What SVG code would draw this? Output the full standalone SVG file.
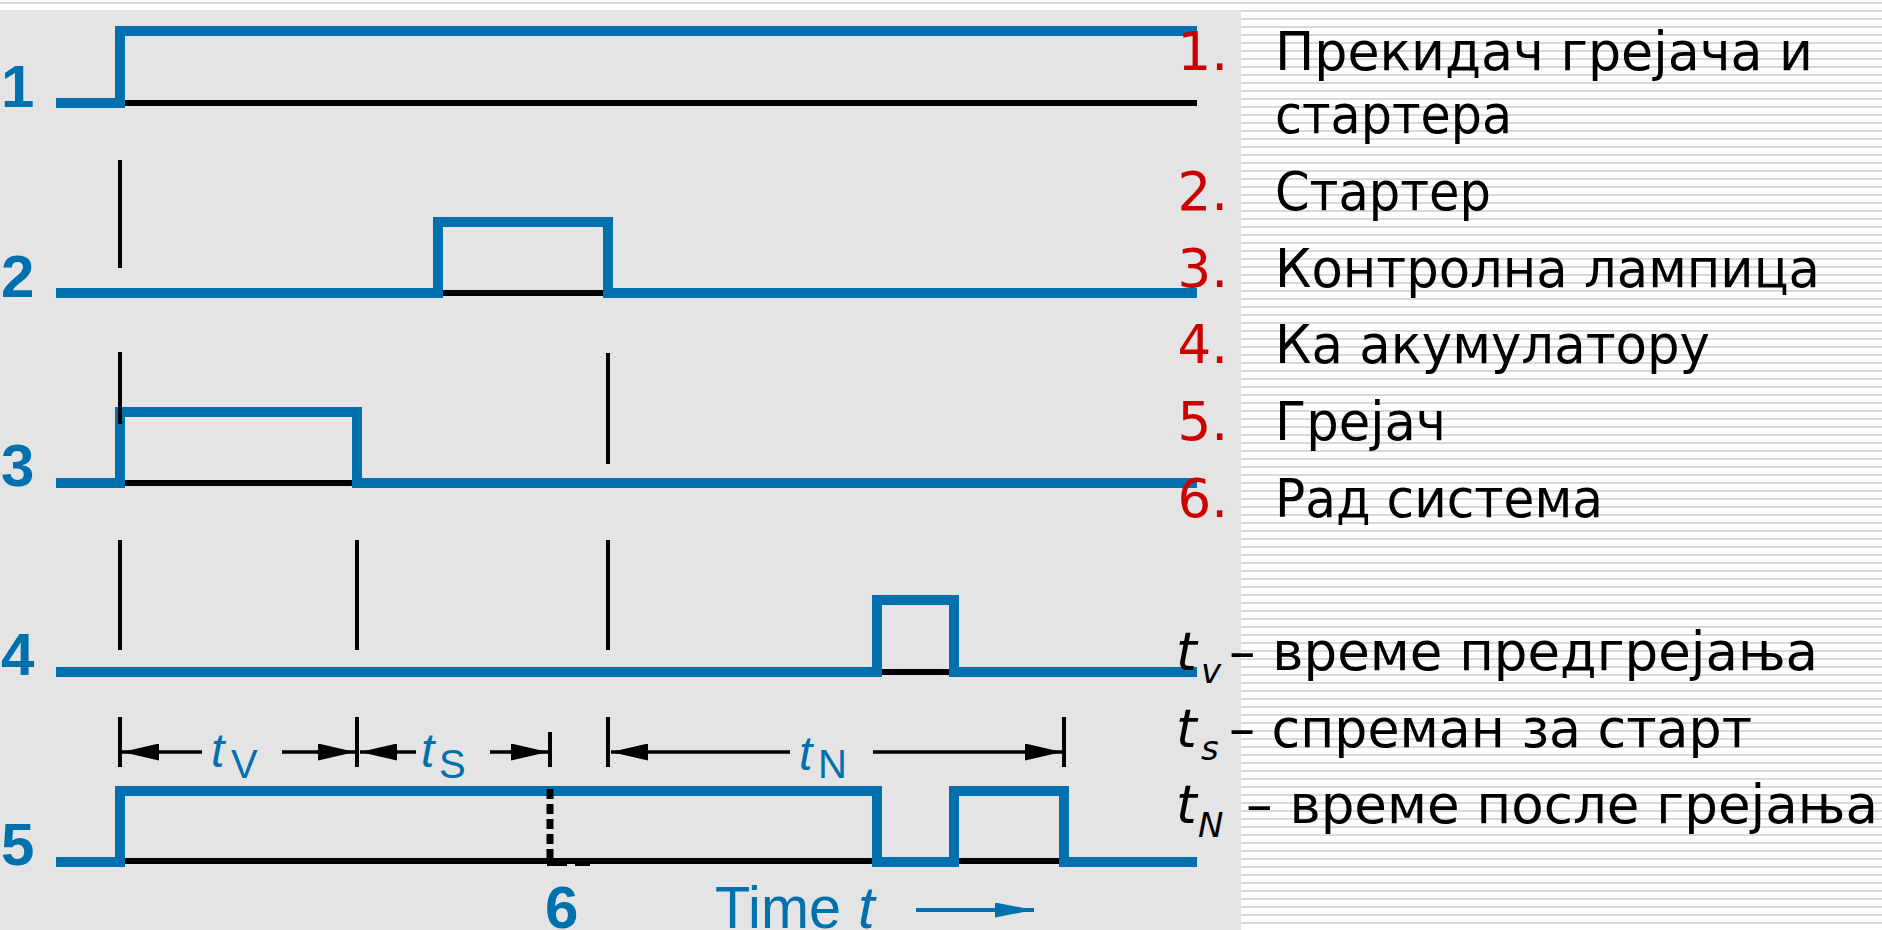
<svg xmlns="http://www.w3.org/2000/svg" width="1882" height="930" viewBox="0 0 1882 930">
  <defs>
    <pattern id="stripes" x="0" y="0" width="16" height="8" patternUnits="userSpaceOnUse">
      <rect width="16" height="8" fill="#ffffff"/>
      <rect y="2" width="16" height="2" fill="#d9d9d9"/>
    </pattern>
    <marker id="arrowK" viewBox="0 0 37 17" refX="37" refY="8.5" markerWidth="37" markerHeight="17" markerUnits="userSpaceOnUse" orient="auto">
      <path d="M0,0 L37,8.5 L0,17 z" fill="#000"/>
    </marker>
    <marker id="arrowB" viewBox="0 0 39 15" refX="39" refY="7.5" markerWidth="39" markerHeight="15" markerUnits="userSpaceOnUse" orient="auto">
      <path d="M0,0 L39,7.5 L0,15 z" fill="#0070ae"/>
    </marker>
    <style>
      .sig { fill: none; stroke: #0070ae; stroke-width: 10; stroke-linejoin: miter; stroke-linecap: butt; }
      .base { fill: none; stroke: #000; stroke-width: 6; }
      .mark { fill: none; stroke: #000; stroke-width: 4; }
      .dim { fill: none; stroke: #000; stroke-width: 3.5; marker-end: url(#arrowK); }
      .rowlbl { font-family: "Liberation Sans", Arial, sans-serif; font-weight: bold; font-size: 60px; fill: #0070ae; }
      .tlbl { font-family: "Liberation Sans", Arial, sans-serif; font-style: italic; font-size: 48px; fill: #0070ae; }
      .tsub { font-family: "Liberation Sans", Arial, sans-serif; font-size: 40px; fill: #0070ae; }
      .num { font-family: "DejaVu Sans", Verdana, sans-serif; font-size: 53px; fill: #cc0000; }
      .leg { font-family: "DejaVu Sans", Verdana, sans-serif; font-size: 53px; fill: #000; }
      .legt { font-family: "DejaVu Sans", Verdana, sans-serif; font-style: italic; font-size: 53px; fill: #000; }
      .legs { font-family: "DejaVu Sans", Verdana, sans-serif; font-style: italic; font-size: 34px; fill: #000; }
    </style>
  </defs>

  <rect id="background" x="0" y="0" width="1882" height="930" fill="url(#stripes)"/>
  <rect id="panel" x="0" y="10" width="1241" height="920" fill="#e4e4e4"/>

  <g id="signal-1">
    <text class="rowlbl" x="1" y="107">1</text>
    <path class="base" d="M120,103 H1197"/>
    <path class="sig" d="M56,103 H120 V31 H1197"/>
  </g>

  <g id="signal-2">
    <text class="rowlbl" x="1" y="297">2</text>
    <path class="base" d="M438,293 H608"/>
    <path class="sig" d="M56,293 H438 V222 H608 V293 H1197"/>
  </g>

  <g id="signal-3">
    <text class="rowlbl" x="1" y="486">3</text>
    <path class="base" d="M120,483 H357"/>
    <path class="sig" d="M56,483 H120 V412 H357 V483 H1197"/>
  </g>

  <g id="signal-4">
    <text class="rowlbl" x="1" y="675">4</text>
    <path class="base" d="M877,672 H954"/>
    <path class="sig" d="M56,672 H877 V600 H954 V672 H1197"/>
  </g>

  <g id="signal-5">
    <text class="rowlbl" x="1" y="865">5</text>
    <path class="base" d="M120,861 H877 M954,861 H1064"/>
    <path class="sig" d="M56,862 H120 V791 H877 V862 H954 V791 H1064 V862 H1197"/>
  </g>

  <g id="event-6">
    <path d="M550,789 V864" fill="none" stroke="#000" stroke-width="7" stroke-dasharray="10 5"/>
    <path d="M547,864 H590" fill="none" stroke="#000" stroke-width="4" stroke-dasharray="20 8"/>
    <text class="rowlbl" x="545" y="928">6</text>
  </g>

  <g id="connectors">
    <path class="mark" d="M120,160 V268"/>
    <path class="mark" d="M120,352 V424 M608,353 V464"/>
    <path class="mark" d="M120,540 V650 M357,540 V650 M608,540 V650"/>
    <path class="mark" d="M120,717 V767 M357,717 V767 M608,717 V767 M1064,717 V767 M550,732 V767"/>
    <path class="dim" d="M202,752 H122"/>
    <path class="dim" d="M282,752 H355"/>
    <path class="dim" d="M416,752 H360"/>
    <path class="dim" d="M490,752 H548"/>
    <path class="dim" d="M790,752 H611"/>
    <path class="dim" d="M873,752 H1062"/>
    <path d="M916,910 H1034" fill="none" stroke="#0070ae" stroke-width="4" marker-end="url(#arrowB)"/>
  </g>

  <g id="time-labels">
    <text class="tlbl" x="211" y="767">t</text>
    <text class="tsub" x="231" y="778">V</text>
    <text class="tlbl" x="421" y="767">t</text>
    <text class="tsub" x="439" y="778">S</text>
    <text class="tlbl" x="799" y="770">t</text>
    <text class="tsub" x="818" y="778">N</text>
    <text x="715" y="928" font-family="Liberation Sans, Arial, sans-serif" font-size="60" fill="#0070ae" textLength="126" lengthAdjust="spacingAndGlyphs">Time</text>
    <text x="858" y="928" font-family="Liberation Sans, Arial, sans-serif" font-style="italic" font-size="60" fill="#0070ae">t</text>
  </g>

  <g id="legend">
    <text class="num" x="1228" y="70" text-anchor="end">1.</text>
    <text class="leg" x="1275" y="70" textLength="538" lengthAdjust="spacingAndGlyphs">Прекидач грејача и</text>
    <text class="leg" x="1275" y="133" textLength="237" lengthAdjust="spacingAndGlyphs">стартера</text>
    <text class="num" x="1228" y="210" text-anchor="end">2.</text>
    <text class="leg" x="1275" y="210" textLength="216" lengthAdjust="spacingAndGlyphs">Стартер</text>
    <text class="num" x="1228" y="287" text-anchor="end">3.</text>
    <text class="leg" x="1275" y="287" textLength="545" lengthAdjust="spacingAndGlyphs">Контролна лампица</text>
    <text class="num" x="1228" y="363" text-anchor="end">4.</text>
    <text class="leg" x="1275" y="363" textLength="435" lengthAdjust="spacingAndGlyphs">Ка акумулатору</text>
    <text class="num" x="1228" y="440" text-anchor="end">5.</text>
    <text class="leg" x="1275" y="440" textLength="171" lengthAdjust="spacingAndGlyphs">Грејач</text>
    <text class="num" x="1228" y="517" text-anchor="end">6.</text>
    <text class="leg" x="1275" y="517" textLength="328" lengthAdjust="spacingAndGlyphs">Рад система</text>

    <text class="legt" x="1176" y="670">t</text>
    <text class="legs" x="1201" y="683">v</text>
    <text class="leg" x="1229" y="670" textLength="589" lengthAdjust="spacingAndGlyphs">– време предгрејања</text>
    <text class="legt" x="1176" y="747">t</text>
    <text class="legs" x="1201" y="760">s</text>
    <text class="leg" x="1229" y="747" textLength="523" lengthAdjust="spacingAndGlyphs">– спреман за старт</text>
    <text class="legt" x="1176" y="823">t</text>
    <text class="legs" x="1198" y="837">N</text>
    <text class="leg" x="1246" y="823" textLength="632" lengthAdjust="spacingAndGlyphs">– време после грејања</text>
  </g>
</svg>
